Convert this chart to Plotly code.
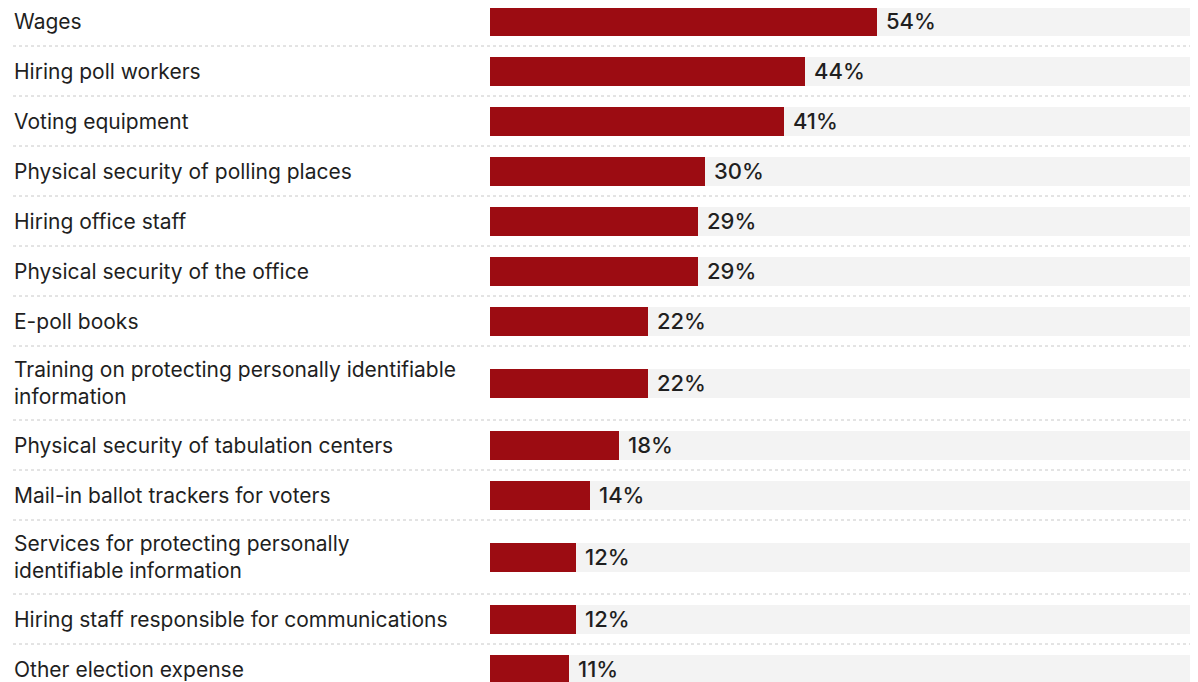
import plotly.graph_objects as go

categories = [
    "Wages",
    "Hiring poll workers",
    "Voting equipment",
    "Physical security of polling places",
    "Hiring office staff",
    "Physical security of the office",
    "E-poll books",
    "Training on protecting personally identifiable<br>information",
    "Physical security of tabulation centers",
    "Mail-in ballot trackers for voters",
    "Services for protecting personally<br>identifiable information",
    "Hiring staff responsible for communications",
    "Other election expense",
]
values = [54, 44, 41, 30, 29, 29, 22, 22, 18, 14, 12, 12, 11]
value_labels = [f"{v}%" for v in values]
full_scale = 100

# page body has an 8px margin; the figure is sized to end at the window edge
PAGE_OFF = 8
W, H = 1198 - PAGE_OFF, 682 - PAGE_OFF
LEFT_PX = 490 - PAGE_OFF
LABEL_X = 12 - PAGE_OFF
SINGLE_ROW, DOUBLE_ROW = 50, 74
TOP_OFFSET = -4 - PAGE_OFF
BAR_END_MAX = 877 - PAGE_OFF

centers, bounds = [], []
y = TOP_OFFSET
for c in categories:
    h = DOUBLE_ROW if "<br>" in c else SINGLE_ROW
    centers.append(y + h / 2)
    y += h
    bounds.append(y)

RED = "#9c0c12"
GREY_BG = "#f3f3f3"
TXT = "#1f1f1f"
FONT = "Inter"

fig = go.Figure()
fig.add_trace(go.Bar(
    y=centers, x=[full_scale] * len(values), orientation="h",
    marker=dict(color=GREY_BG, line=dict(width=0)), width=29,
    hoverinfo="skip", showlegend=False,
))
fig.add_trace(go.Bar(
    y=centers, x=values, orientation="h",
    marker=dict(color=RED, line=dict(width=0)), width=29,
    showlegend=False,
))

for c, v, lab in zip(centers, values, value_labels):
    fig.add_annotation(x=v, y=c, xref="x", yref="y", text=lab,
                       showarrow=False, xanchor="left", yanchor="middle",
                       xshift=7, font=dict(family=FONT, size=22, color=TXT, weight=500))

for c, cat in zip(centers, categories):
    fig.add_annotation(x=LABEL_X / W, y=c, xref="paper", yref="y", text=cat,
                       showarrow=False, xanchor="left", yanchor="middle",
                       align="left", font=dict(family=FONT, size=21, color=TXT))

for b in bounds[:-1]:
    fig.add_shape(type="line", xref="paper", yref="y", x0=(13 - PAGE_OFF) / W, x1=1,
                  y0=b, y1=b, line=dict(color="#c8c8c8", width=1, dash="dot"),
                  layer="below")

px_per_unit = (BAR_END_MAX - LEFT_PX) / values[0]
fig.update_layout(
    width=W, height=H,
    margin=dict(l=0, r=0, t=0, b=0),
    paper_bgcolor="white", plot_bgcolor="white",
    barmode="overlay", bargap=0,
    xaxis=dict(domain=[LEFT_PX / W, 1], range=[0, (W - LEFT_PX) / px_per_unit],
               visible=False, fixedrange=True),
    yaxis=dict(range=[H, 0], visible=False, fixedrange=True),
    font=dict(family=FONT, color=TXT),
)

fig.write_html("out.html")
